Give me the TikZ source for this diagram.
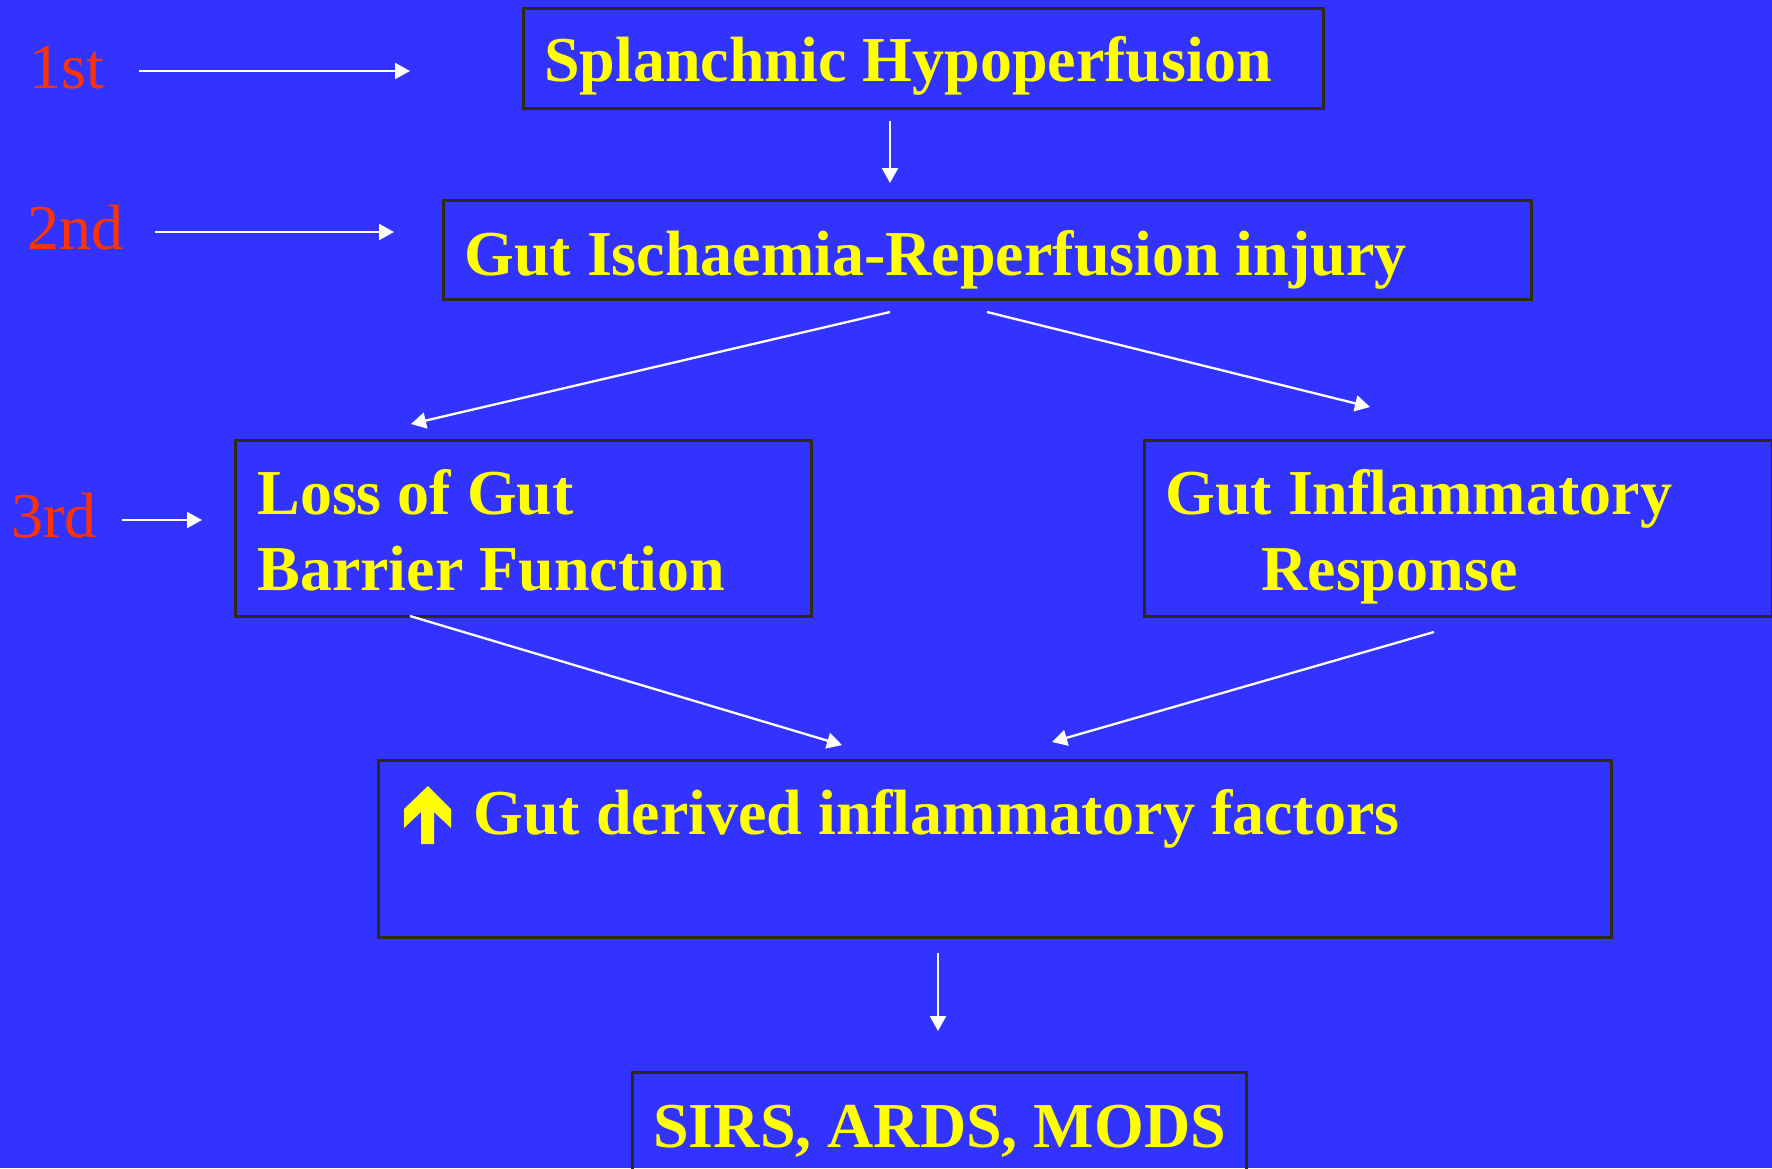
\documentclass[tikz,border=0pt]{standalone}
\usepackage{fontspec}
\setmainfont{Liberation Serif}
\usetikzlibrary{arrows.meta}
\definecolor{bg}{HTML}{3333FF}
\definecolor{ylw}{HTML}{FFFF00}
\definecolor{rd}{HTML}{FF3300}
\definecolor{bord}{HTML}{2E2A18}
\tikzset{
  boxnode/.style={draw=bord, line width=1.5pt, inner sep=0pt, anchor=north west},
  maintext/.style={text=ylw, font=\fontsize{32pt}{38pt}\selectfont\bfseries, inner sep=0pt, anchor=base west, align=left},
  ordtext/.style={text=rd, font=\fontsize{32pt}{38pt}\selectfont, inner sep=0pt, anchor=base west},
  conn/.style={draw=white, line width=1.15pt, -{Triangle[length=7.5pt,width=8pt]}}
}
\begin{document}
\begin{tikzpicture}[x=0.5pt,y=-0.5pt]
\fill[bg] (0,0) rectangle (1772,1168);
\useasboundingbox (0,0) rectangle (1772,1168);
\clip (0,0) rectangle (1772,1168);
% boxes
\node[boxnode, minimum width=400pt, minimum height=50pt] (b1) at (522,7) {};
\node[boxnode, minimum width=544pt, minimum height=49.5pt] (b2) at (442,199) {};
\node[boxnode, minimum width=288pt, minimum height=88pt] (b3) at (234,439) {};
\node[boxnode, minimum width=314pt, minimum height=88pt] (b4) at (1143,439) {};
\node[boxnode, minimum width=616.5pt, minimum height=88.5pt] (b5) at (377,759) {};
\node[boxnode, minimum width=307pt, minimum height=54pt] (b6) at (631,1071) {};
% texts
\node[maintext] (t1) at (544,81) {Splanchnic Hypoperfusion};
\node[maintext] (t2) at (464,275) {Gut Ischaemia-Reperfusion injury};
\node[maintext] (t3) at (257,514) {Loss of Gut};
\node[maintext] (t3b) at (257,590) {Barrier Function};
\node[maintext] (t4) at (1165,514) {Gut Inflammatory};
\node[maintext] (t4b) at (1261,590) {Response};
\node[maintext] (t5) at (473,834) {Gut derived inflammatory factors};
\node[maintext] (t6) at (653,1147) {SIRS, ARDS, MODS};
% up arrow symbol
\fill[ylw] (428,786) -- (451,809) -- (451,828) -- (434,812) -- (434,844) -- (421,844) -- (421,812) -- (404,828) -- (404,809) -- cycle;
% ordinals
\node[ordtext] (o1) at (29,88) {1st};
\node[ordtext] (o2) at (27,249) {2nd};
\node[ordtext] (o3) at (11,537) {3rd};
% connector coordinates
\coordinate (a1s) at (139,71);  \coordinate (a1e) at (410,71);
\coordinate (a2s) at (155,232); \coordinate (a2e) at (394,232);
\coordinate (a3s) at (122,520); \coordinate (a3e) at (202,520);
\coordinate (d1s) at (890,121); \coordinate (d1e) at (890,183);
\coordinate (l1s) at (890,312); \coordinate (l1e) at (411,424);
\coordinate (r1s) at (987,312); \coordinate (r1e) at (1370,407);
\coordinate (l2s) at (410,616); \coordinate (l2e) at (842,745);
\coordinate (r2s) at (1434,632); \coordinate (r2e) at (1052,742);
\coordinate (d2s) at (938,953); \coordinate (d2e) at (938,1031);
\draw[conn] (a1s) -- (a1e);
\draw[conn] (a2s) -- (a2e);
\draw[conn] (a3s) -- (a3e);
\draw[conn] (d1s) -- (d1e);
\draw[conn] (l1s) -- (l1e);
\draw[conn] (r1s) -- (r1e);
\draw[conn] (l2s) -- (l2e);
\draw[conn] (r2s) -- (r2e);
\draw[conn] (d2s) -- (d2e);
\end{tikzpicture}
\end{document}
